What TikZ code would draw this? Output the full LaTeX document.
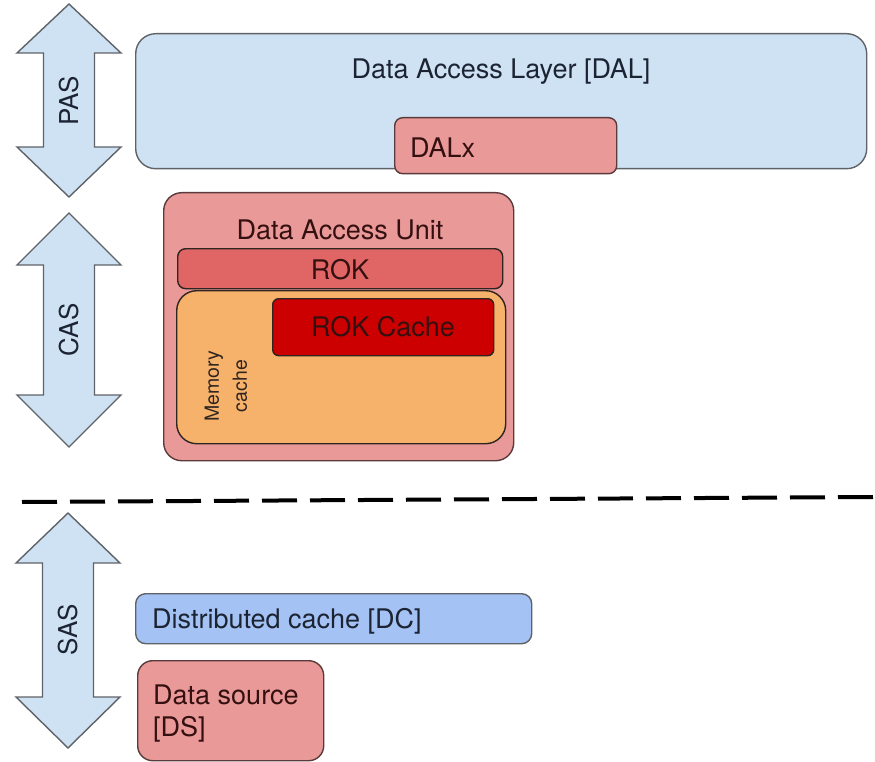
\documentclass[tikz,border=0pt]{standalone}
\usepackage{fontspec}
\setmainfont{TeX Gyre Heros}
\definecolor{paleblue}{HTML}{CFE2F3}
\definecolor{midblue}{HTML}{A4C2F4}
\definecolor{palered}{HTML}{EA9999}
\definecolor{midred}{HTML}{E06666}
\definecolor{deepred}{HTML}{CC0000}
\definecolor{paleorange}{HTML}{F6B26B}
\definecolor{edgegray}{HTML}{5F6368}
\definecolor{edgered}{HTML}{5A3A3A}
\definecolor{edgedark}{HTML}{2E2420}
\definecolor{inkblue}{HTML}{1C2433}
\definecolor{inkred}{HTML}{351010}

% vertical two-way arrow: centre x, top tip, upper head base, lower head base, bottom tip
\newcommand\twowayarrow[5]{%
  \draw[spanarrow] (#1,#2) -- ({#1+52},#3) -- ({#1+25.5},#3) -- ({#1+25.5},#4)
    -- ({#1+52},#4) -- (#1,#5) -- ({#1-52},#4) -- ({#1-25.5},#4)
    -- ({#1-25.5},#3) -- ({#1-52},#3) -- cycle;}

\tikzset{
  spanarrow/.style={fill=paleblue, draw=edgegray, line width=1.4pt, line join=miter},
  spanlabel/.style={rotate=90, text=inkblue, font=\fontsize{26}{30}\selectfont, inner sep=0pt},
  box/.style={draw=edgegray, line width=1.4pt, inner sep=0pt, anchor=north west},
  txt/.style={font=\fontsize{27}{32}\selectfont, inner sep=0pt},
}

\begin{document}
\begin{tikzpicture}[x=1pt, y=-1pt]
\useasboundingbox (0,0) rectangle (875,762);

% layer arrows
\twowayarrow{69}{4}{53}{147}{197}
\node[spanlabel] (pas) at (69,101) {PAS};
\twowayarrow{69}{213}{265}{395}{447}
\node[spanlabel] (cas) at (69,330) {CAS};
\twowayarrow{68}{513}{563}{697}{748}
\node[spanlabel] (sas) at (68,630) {SAS};

% presentation layer
\node[box, fill=paleblue, rounded corners=20pt, minimum width=731pt, minimum height=135pt] (dal) at (135,33) {};
\node[txt, text=inkblue] (daltext) at (501,72) {Data Access Layer [DAL]};
\node[box, fill=palered, draw=edgered, rounded corners=8pt, minimum width=222pt, minimum height=56pt] (dalx) at (394,117) {};
\node[txt, text=inkred, anchor=west] (dalxtext) at (410,148) {DALx};

% cache layer
\node[box, fill=palered, draw=edgered, rounded corners=18pt, minimum width=350pt, minimum height=268pt] (dau) at (163,192) {};
\node[txt, text=inkred] (dautext) at (340,230) {Data Access Unit};
\node[box, fill=midred, draw=edgedark, rounded corners=8pt, minimum width=325pt, minimum height=40pt] (rok) at (177,248) {};
\node[txt, text=inkred] (roktext) at (340,270) {ROK};
\node[box, fill=paleorange, draw=edgedark, rounded corners=20pt, minimum width=329pt, minimum height=153pt] (memcache) at (176,290) {};
\node[txt, text=edgedark, rotate=90, align=center, font=\fontsize{19.5}{28}\selectfont] (memtext) at (226,386) {Memory\\cache};
\node[box, fill=deepred, draw=edgedark, rounded corners=6pt, minimum width=221pt, minimum height=57pt] (rokcache) at (272,298) {};
\node[txt, text=inkred] (rokcachetext) at (383,327) {ROK Cache};

% divider between cache and storage layers
\coordinate (divl) at (22,502);
\coordinate (divr) at (875,497);
\draw[line width=4pt, dash pattern=on 35pt off 13pt] (divl) -- (divr);

% storage layer
\node[box, fill=midblue, rounded corners=10pt, minimum width=396pt, minimum height=50pt] (dc) at (135,593) {};
\node[txt, text=inkblue, anchor=west] (dctext) at (152,621) {Distributed cache [DC]};
\node[box, fill=palered, draw=edgered, rounded corners=15pt, minimum width=186pt, minimum height=100pt] (ds) at (137,660) {};
\node[txt, text=inkred, anchor=west, align=left, font=\fontsize{27}{32}\selectfont] (dstext) at (153,714) {Data source\\{}[DS]};
\end{tikzpicture}
\end{document}
